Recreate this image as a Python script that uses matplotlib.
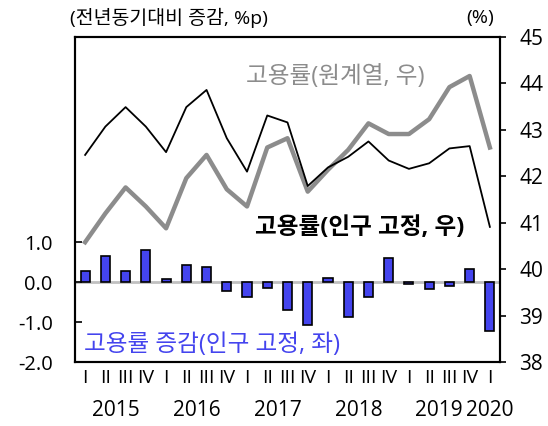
import numpy as np
import matplotlib.pyplot as plt

plt.rcParams['font.family'] = ['Open Sans', 'Noto Sans CJK KR', 'DejaVu Sans']

# 2015 Q1 ~ 2020 Q1
quarters = ['I', 'II', 'III', 'IV'] * 5 + ['I']
years = ['2015', '2016', '2017', '2018', '2019', '2020']
year_pos = [1.5, 5.5, 9.5, 13.5, 17.5, 20]

# 고용률 증감 (인구 고정, 좌), %p
chg_fixed = [0.28, 0.65, 0.28, 0.80, 0.07, 0.43, 0.38, -0.22, -0.38, -0.16,
             -0.69, -1.08, 0.11, -0.87, -0.38, 0.60, -0.06, -0.17, -0.11,
             0.33, -1.23]
# 고용률 (인구 고정, 우), %
rate_fixed = [42.46, 43.07, 43.49, 43.07, 42.52, 43.49, 43.86, 42.82, 42.10,
              43.31, 43.16, 41.79, 42.19, 42.42, 42.75, 42.34, 42.16, 42.28,
              42.60, 42.65, 40.91]
# 고용률 (원계열, 우), %
rate_raw = [40.58, 41.20, 41.76, 41.35, 40.88, 41.96, 42.46, 41.72, 41.35,
            42.62, 42.82, 41.67, 42.14, 42.57, 43.14, 42.91, 42.91, 43.23,
            43.92, 44.16, 42.62]

x = np.arange(len(quarters))
W, H = 548, 426

fig = plt.figure(figsize=(W / 100, H / 100), dpi=100)
ax = fig.add_axes([75 / W, 1 - 362 / H, 425 / W, 325 / H])
ax2 = ax.twinx()

# bars on the left axis
ax.axhline(0, color='#c0c0c0', lw=2, zorder=1)
ax.bar(x, chg_fixed, width=0.45, color='#4444ee', edgecolor='black',
       linewidth=1.2, zorder=2)
ax.set_ylim(-2, 6.125)
ax.set_yticks([-2, -1, 0, 1])
ax.set_yticklabels(['-2.0', '-1.0', '0.0', '1.0'])
ax.set_xlim(-0.5, len(x) - 0.5)
ax.set_xticks(x)
ax.set_xticklabels(quarters)
ax.tick_params(axis='x', length=0, pad=5, labelsize=14)
ax.tick_params(axis='y', direction='in', length=5, width=1.2,
               labelsize=14.5, pad=16)
for s in ax.spines.values():
    s.set_linewidth(1.5)

# year labels under the quarter labels
for yr, p in zip(years, year_pos):
    ax.text(p, (362 - 410) / 325, yr, ha='center', va='center',
            fontsize=15, transform=ax.get_xaxis_transform())

# lines on the right axis
ax2.plot(x, rate_raw, color='#8c8c8c', lw=3.2, zorder=3)
ax2.plot(x, rate_fixed, color='black', lw=1.3, zorder=4)
ax2.set_ylim(38, 45)
ax2.set_yticks(range(38, 46))
ax2.tick_params(axis='y', direction='out', length=4, width=1.2,
                labelsize=15, pad=10)
for s in ax2.spines.values():
    s.set_linewidth(1.5)

# labels
fig.text(70 / W, 1 - 18 / H, '(전년동기대비 증감, %p)', ha='left',
         va='center', fontsize=14)
fig.text(494 / W, 1 - 18 / H, '(%)', ha='right', va='center',
         fontsize=14)
fig.text(335 / W, 1 - 77 / H, '고용률(원계열, 우)', ha='center',
         va='center', fontsize=17, color='#8c8c8c')
fig.text(360 / W, 1 - 228 / H, '고용률(인구 고정, 우)', ha='center',
         va='center', fontsize=17, color='black', fontweight='bold')
fig.text(84 / W, 1 - 345 / H, '고용률 증감(인구 고정, 좌)', ha='left',
         va='center', fontsize=17, color='#4444ee')

fig.savefig('out.png', dpi=100)
